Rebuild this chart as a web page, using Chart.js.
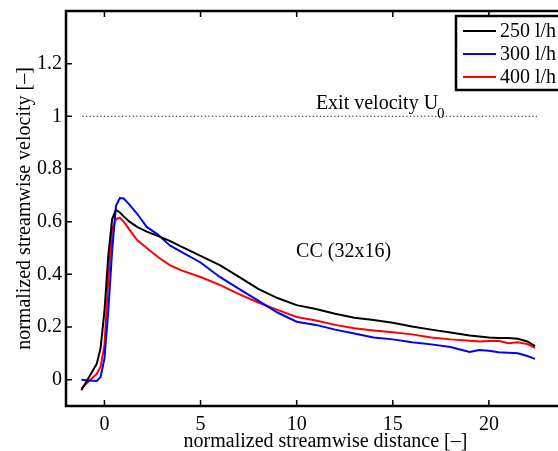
<!DOCTYPE html>
<html>
<head>
<meta charset="utf-8">
<script src="https://cdn.jsdelivr.net/npm/chart.js@4.4.1/dist/chart.umd.min.js"></script>
<style>
  html, body { margin: 0; padding: 0; background: #fff; overflow: hidden; }
  #wrap { width: 558px; height: 451px; overflow: hidden; position: relative; }
  #chart { display: block; }
</style>
</head>
<body>
<div id="wrap"><canvas id="chart" width="600" height="451"></canvas></div>
<script>
// normalized streamwise distance, shared by the three flow rates
const xValues = [-1.2, -0.8, -0.4, -0.2, 0, 0.2, 0.4, 0.6, 0.8, 1.0, 1.3, 1.7, 2.2, 2.8, 3.4, 4,
  5, 6, 7, 8, 9, 10, 11, 12, 13, 14, 15, 16, 17, 18, 19, 19.5, 20, 20.5, 21, 21.5, 22, 22.4];

const flow250 = [-0.04, 0.01, 0.06, 0.12, 0.26, 0.47, 0.61, 0.645, 0.635, 0.62, 0.60, 0.58, 0.562, 0.545, 0.527, 0.505,
  0.47, 0.435, 0.39, 0.345, 0.31, 0.283, 0.268, 0.25, 0.235, 0.227, 0.216, 0.202, 0.19, 0.179, 0.168, 0.164, 0.16, 0.158, 0.158, 0.155, 0.145, 0.127];
const flow300 = [0, -0.003, -0.005, 0.01, 0.08, 0.26, 0.49, 0.66, 0.69, 0.688, 0.665, 0.63, 0.58, 0.55, 0.51, 0.485,
  0.445, 0.39, 0.345, 0.3, 0.255, 0.22, 0.208, 0.19, 0.175, 0.16, 0.153, 0.142, 0.134, 0.124, 0.105, 0.113, 0.11, 0.104, 0.102, 0.1, 0.09, 0.079];
const flow400 = [-0.033, -0.005, 0.022, 0.05, 0.13, 0.38, 0.57, 0.61, 0.615, 0.6, 0.57, 0.53, 0.5, 0.465, 0.435, 0.415,
  0.39, 0.36, 0.325, 0.293, 0.265, 0.238, 0.225, 0.208, 0.195, 0.187, 0.18, 0.172, 0.16, 0.153, 0.148, 0.145, 0.147, 0.148, 0.138, 0.142, 0.135, 0.121];

const seriesLabels = ["250 l/h", "300 l/h", "400 l/h"];
const seriesColors = ["#000000", "#0000ff", "#ff0000"];

const exitLineX = [-1.15, 22.5];
const exitLineY = [1, 1];

const xTicks = [0, 5, 10, 15, 20];
const yTicks = [0, 0.2, 0.4, 0.6, 0.8, 1, 1.2];

const FONT = "'Liberation Serif', 'Times New Roman', serif";

const toPoints = (xs, ys) => xs.map((x, i) => ({ x, y: ys[i] }));

// frame with inward ticks, like the matlab box
const framePlugin = {
  id: "frame",
  afterDraw(chart) {
    const { ctx, chartArea: a, scales: { x, y } } = chart;
    ctx.save();
    ctx.strokeStyle = "#000";
    ctx.lineWidth = 2.5;
    ctx.strokeRect(a.left, a.top, a.right - a.left, a.bottom - a.top);
    ctx.lineWidth = 1.5;
    ctx.beginPath();
    xTicks.forEach(v => {
      const px = x.getPixelForValue(v);
      ctx.moveTo(px, a.bottom); ctx.lineTo(px, a.bottom - 6);
      ctx.moveTo(px, a.top); ctx.lineTo(px, a.top + 6);
    });
    yTicks.forEach(v => {
      const py = y.getPixelForValue(v);
      ctx.moveTo(a.left, py); ctx.lineTo(a.left + 6, py);
      ctx.moveTo(a.right, py); ctx.lineTo(a.right - 6, py);
    });
    ctx.stroke();
    ctx.restore();
  }
};

// annotations + legend box
const labelsPlugin = {
  id: "labels",
  afterDraw(chart) {
    const { ctx, scales: { x, y } } = chart;
    ctx.save();
    ctx.fillStyle = "#000";
    ctx.textBaseline = "alphabetic";
    ctx.font = "20px " + FONT;
    const ex = x.getPixelForValue(11.0), ey = y.getPixelForValue(1.026);
    ctx.fillText("Exit velocity U", ex, ey);
    const w = ctx.measureText("Exit velocity U").width;
    ctx.font = "15px " + FONT;
    ctx.fillText("0", ex + w - 1, ey + 9);

    ctx.font = "20px " + FONT;
    ctx.fillText("CC (32x16)", x.getPixelForValue(9.97), y.getPixelForValue(0.465));

    // legend
    const lx = 456, ly = 16;
    ctx.fillStyle = "#fff";
    ctx.fillRect(lx, ly, 130, 74);
    ctx.strokeStyle = "#000";
    ctx.lineWidth = 2.5;
    ctx.strokeRect(lx, ly, 130, 74);
    ctx.textBaseline = "middle";
    chart.data.datasets.filter(d => d.inLegend).forEach((d, i) => {
      const rowY = ly + 15 + i * 23;
      ctx.strokeStyle = d.borderColor;
      ctx.lineWidth = 2;
      ctx.beginPath();
      ctx.moveTo(lx + 7, rowY);
      ctx.lineTo(lx + 40, rowY);
      ctx.stroke();
      ctx.fillStyle = "#000";
      ctx.fillText(d.label, lx + 44, rowY + 1);
    });
    ctx.restore();
  }
};

const datasets = [flow250, flow300, flow400].map((ys, i) => ({
  label: seriesLabels[i],
  data: toPoints(xValues, ys),
  borderColor: seriesColors[i],
  borderWidth: 2,
  pointRadius: 0,
  tension: 0,
  inLegend: true
}));
datasets.push({
  label: "Exit velocity",
  data: toPoints(exitLineX, exitLineY),
  borderColor: "#444",
  borderWidth: 1.2,
  borderDash: [1.2, 2.4],
  pointRadius: 0,
  inLegend: false
});

new Chart(document.getElementById("chart"), {
  type: "line",
  data: { datasets },
  options: {
    responsive: false,
    animation: false,
    devicePixelRatio: 1,
    layout: { padding: { left: 0, top: 11, right: 15, bottom: 0 } },
    plugins: { legend: { display: false }, tooltip: { enabled: false } },
    scales: {
      x: {
        type: "linear",
        min: -2,
        max: 25,
        afterBuildTicks: s => { s.ticks = xTicks.map(v => ({ value: v })); },
        afterFit: s => { s.height = 45; s.paddingLeft = 0; s.paddingRight = 0; },
        grid: { display: false, drawTicks: false },
        border: { display: false },
        ticks: { color: "#000", padding: 7, maxRotation: 0, font: { family: FONT, size: 20 } },
        title: {
          display: true,
          text: "normalized streamwise distance [–]",
          color: "#000",
          padding: { top: 0, bottom: 0 },
          font: { family: FONT, size: 20, lineHeight: 0.9 }
        }
      },
      y: {
        min: -0.1,
        max: 1.4,
        afterBuildTicks: s => { s.ticks = yTicks.map(v => ({ value: v })); },
        afterFit: s => { s.width = 66; s.paddingTop = 0; s.paddingBottom = 0; },
        grid: { display: false, drawTicks: false },
        border: { display: false },
        ticks: {
          color: "#000", padding: 4,
          font: { family: FONT, size: 20 },
          callback: v => String(+v.toFixed(1))
        },
        title: {
          display: true,
          text: "normalized streamwise velocity [–]",
          color: "#000",
          padding: { top: 13, bottom: 0 },
          font: { family: FONT, size: 20 }
        }
      }
    }
  },
  plugins: [framePlugin, labelsPlugin]
});
</script>
</body>
</html>
